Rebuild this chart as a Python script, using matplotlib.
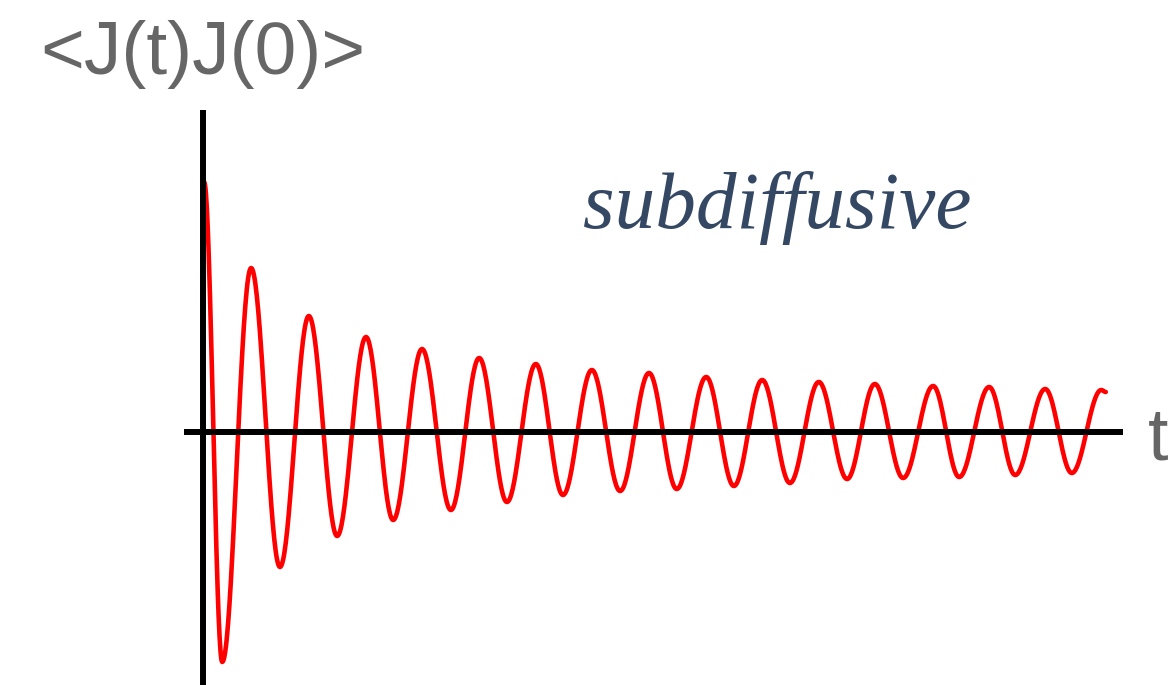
import numpy as np
import matplotlib
matplotlib.use("Agg")
import matplotlib.pyplot as plt

# Extrema of the correlation curve (t in periods, J normalised)
ext_t = [0.02, 0.34, 0.85, 1.36, 1.87, 2.37, 2.88, 3.36, 3.87, 4.38, 4.88, 5.37,
         5.88, 6.36, 6.87, 7.37, 7.88, 8.37, 8.89, 9.38, 9.88, 10.37, 10.88,
         11.38, 11.87, 12.37, 12.90, 13.36, 13.89, 14.35, 14.88, 15.35, 15.87, 15.95]
ext_j = [1.00, -0.92, 0.656, -0.54, 0.464, -0.416, 0.38, -0.352, 0.332, -0.312,
         0.296, -0.28, 0.272, -0.252, 0.248, -0.236, 0.236, -0.228, 0.22, -0.216,
         0.208, -0.204, 0.20, -0.188, 0.192, -0.184, 0.184, -0.18, 0.18, -0.172,
         0.172, -0.164, 0.168, 0.16]

ylabel_text = "<J(t)J(0)>"
xlabel_text = "t"
regime_text = "subdiffusive"

# smooth rendering between consecutive extrema (half-cosine shape)
ts, js = [], []
for k in range(len(ext_t) - 1):
    t0, t1 = ext_t[k], ext_t[k + 1]
    j0, j1 = ext_j[k], ext_j[k + 1]
    s = np.linspace(0, 1, 40, endpoint=(k == len(ext_t) - 2))
    ts.append(t0 + (t1 - t0) * s)
    js.append(j0 + (j1 - j0) * (1 - np.cos(np.pi * s)) / 2)
ts = np.concatenate(ts)
js = np.concatenate(js)

W, H = 1174, 685
fig = plt.figure(figsize=(W / 100, H / 100), dpi=100)
ax = fig.add_axes([0, 0, 1, 1])
px_per_t = 56.6
px_per_j = 250.0
x0_px, y0_px = 203, 432
ax.set_xlim(-x0_px / px_per_t, (W - x0_px) / px_per_t)
ax.set_ylim(-(H - y0_px) / px_per_j, y0_px / px_per_j)

ax.plot(ts, js, color="#ff0000", lw=3.3, solid_capstyle="round", zorder=3)

for side in ["top", "right"]:
    ax.spines[side].set_visible(False)
ax.spines["left"].set_position(("data", 0))
ax.spines["bottom"].set_position(("data", 0))
ax.spines["left"].set_bounds(-(H - y0_px) / px_per_j, (y0_px - 110) / px_per_j)
ax.spines["bottom"].set_bounds((184 - x0_px) / px_per_t, (1123 - x0_px) / px_per_t)
for side in ["left", "bottom"]:
    ax.spines[side].set_linewidth(4.3)
    ax.spines[side].set_color("black")
    ax.spines[side].set_zorder(4)
    ax.spines[side].set_capstyle("butt")
ax.set_xticks([])
ax.set_yticks([])
ax.patch.set_visible(False)

fig.text(40 / W, 1 - 74 / H, ylabel_text, ha="left", va="baseline",
         fontsize=54, color="#666666", family="Liberation Sans")
fig.text(1148 / W, 1 - 460 / H, xlabel_text, ha="left", va="baseline",
         fontsize=53, color="#666666", family="Liberation Sans")
fig.text(583 / W, 1 - 228 / H, regime_text, ha="left", va="baseline",
         fontsize=58.5, color="#344763", family="Liberation Serif", style="italic")

fig.savefig("out.png", dpi=100)
